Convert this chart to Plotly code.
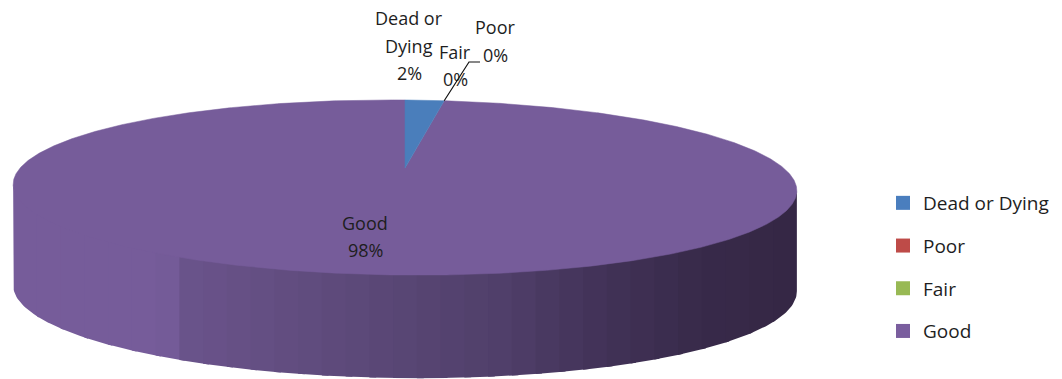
import textwrap

import numpy as np
import plotly.graph_objects as go

# Tree condition shares (percent of trees)
CATEGORIES = ["Dead or Dying", "Poor", "Fair", "Good"]
PERCENT = [2, 0, 0, 98]
SLICE_COLORS = ["#4A7EBB", "#C0504D", "#9BBB59", "#765C9A"]
LEGEND_COLORS = ["#4A7EBE", "#BE4B48", "#98B954", "#7A5E9E"]

# Projection of the tilted disc (pixel space)
CX, CY = 405.0, 168.0      # projected disc centre
A, B = 382.0, 83.2         # horizontal / vertical radii before perspective
K = 0.223                  # perspective strength (far edge shrinks)
SHEAR = 0.008
DEPTH = 100.0              # wall thickness

# Wall shading, left to right
SIDE_X = [0, 165, 185, 260, 400, 500, 600, 700, 800]
SIDE_RGB = [(118, 92, 154), (118, 92, 154), (106, 83, 139), (100, 79, 131),
            (88, 70, 116), (80, 63, 106), (66, 50, 88), (56, 42, 74), (52, 38, 68)]

TEXT_COLOR = "#1e1e1e"
FONT = "Open Sans"


def project(phi_deg, r=1.0, bottom=False):
    phi = np.radians(np.asarray(phi_deg, dtype=float))
    X = r * np.sin(phi)
    Y = r * np.cos(phi)
    w = 1 + K * Y
    x = CX + A * X / w
    y = CY - B * Y / w + SHEAR * (x - CX)
    if bottom:
        y = y + DEPTH * (1 - 0.03 * Y)
    return x, y


def side_color(x):
    rgb = [np.interp(x, SIDE_X, [c[i] for c in SIDE_RGB]) for i in range(3)]
    return "rgb(%d,%d,%d)" % tuple(int(round(v)) for v in rgb)


fig = go.Figure()

# --- cylinder wall (visible front half), drawn as vertical bands ---
phi_lo = np.degrees(np.arccos(-K))
phi_hi = 360 - phi_lo
fine = np.linspace(phi_lo, phi_hi, 3000)
fx, _ = project(fine)
edges_x = np.linspace(fx.min(), fx.max(), 34)
edges_phi = np.interp(edges_x, fx[::-1], fine[::-1])
for i in range(len(edges_phi) - 1):
    p0, p1 = sorted((edges_phi[i], edges_phi[i + 1]))
    # each band reaches a little under its right-hand neighbour (drawn later)
    p0 = max(phi_lo, p0 - 0.8)
    arc = np.linspace(p0, p1, 20)
    tx, ty = project(arc)
    ty = ty - 2.0              # tuck the upper rim under the top face
    bx, by = project(arc[::-1], bottom=True)
    col = side_color(0.5 * (edges_x[i] + edges_x[i + 1]))
    fig.add_trace(go.Scatter(
        x=np.concatenate([tx, bx]), y=np.concatenate([ty, by]),
        mode="lines", fill="toself", fillcolor=col,
        line=dict(color=col, width=0),
        hoverinfo="skip", showlegend=False, legendgroup="Good"))

# --- top face slices, clockwise from 12 o'clock ---
angles = np.cumsum([0] + [p * 3.6 for p in PERCENT])
order = sorted(range(len(CATEGORIES)), key=lambda i: -PERCENT[i])
for i in order:
    a0, a1 = angles[i], angles[i + 1]
    n = max(2, int((a1 - a0) * 3))
    ax, ay = project(np.linspace(a0, a1, n))
    fig.add_trace(go.Scatter(
        x=np.concatenate([[CX], ax, [CX]]), y=np.concatenate([[CY], ay, [CY]]),
        mode="lines", fill="toself", fillcolor=SLICE_COLORS[i],
        line=dict(color=SLICE_COLORS[i], width=0.5 if PERCENT[i] else 0),
        name=CATEGORIES[i], legendgroup=CATEGORIES[i],
        hovertemplate="%s: %d%%<extra></extra>" % (CATEGORIES[i], PERCENT[i]),
        showlegend=False))

# --- legend entries ---
for name, col in zip(CATEGORIES, LEGEND_COLORS):
    fig.add_trace(go.Scatter(
        x=[None], y=[None], mode="markers", name=name, legendgroup=name,
        marker=dict(symbol="square", size=14, color=col)))

# --- data labels ---
LABEL_POS = {                  # centre x, first-line y, line step
    "Dead or Dying": (409, 18, 27.5),
    "Poor": (495, 27, 28),
    "Fair": (455, 52, 27),
    "Good": (365, 223, 27),
}
for name, pct in zip(CATEGORIES, PERCENT):
    lx, ly, step = LABEL_POS[name]
    lines = textwrap.wrap(name, 7) + ["%d%%" % pct]
    for j, line in enumerate(lines):
        fig.add_annotation(x=lx, y=ly + j * step, text=line, showarrow=False,
                           xanchor="center", yanchor="middle",
                           font=dict(family=FONT, size=18, color=TEXT_COLOR))

# leader line from the "Poor" label to the zero-width slice edge
edge_x, edge_y = project(angles[1])
fig.add_trace(go.Scatter(
    x=[480, 469, float(edge_x)], y=[62, 62, float(edge_y)], mode="lines",
    line=dict(color="#111111", width=1.2), hoverinfo="skip", showlegend=False))

fig.update_layout(
    width=1062, height=379,
    margin=dict(l=0, r=0, t=0, b=0),
    paper_bgcolor="white", plot_bgcolor="white",
    xaxis=dict(range=[0, 1062], visible=False, fixedrange=True),
    yaxis=dict(range=[379, 0], visible=False, fixedrange=True),
    showlegend=True,
    legend=dict(
        x=883 / 1062, y=1 - 184 / 379, xanchor="left", yanchor="top",
        font=dict(family=FONT, size=19, color=TEXT_COLOR),
        traceorder="grouped", tracegroupgap=15, itemwidth=30,
        bgcolor="rgba(0,0,0,0)"),
)

fig.write_html("out.html")
